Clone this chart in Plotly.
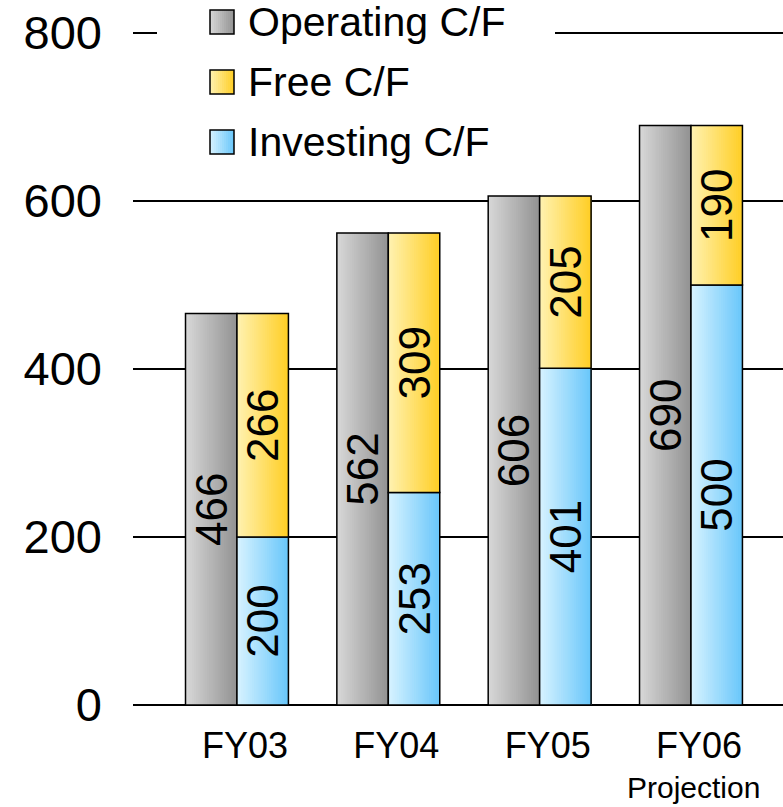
import plotly.graph_objects as go

# ---------------- data ----------------
categories = ["FY03", "FY04", "FY05", "FY06"]
operating_cf = [466, 562, 606, 690]
investing_cf = [200, 253, 401, 500]
free_cf = [266, 309, 205, 190]
y_ticks = [0, 200, 400, 600, 800]
legend_names = ["Operating C/F", "Free C/F", "Investing C/F"]

# ---------------- geometry / style ----------------
W, H = 783, 807
ML, MR, MT, MB = 133, 0, 33, 102
PW, PH = W - ML - MR, H - MT - MB
FONT = "Liberation Sans, Arial, sans-serif"

GREY = ((216, 216, 216), (146, 146, 146))
YELLOW = ((255, 242, 178), (255, 206, 36))
BLUE = ((216, 243, 255), (104, 198, 250))

def lerp(cols, t):
    a, b = cols
    return "rgb(%d,%d,%d)" % tuple(round(a[i] + (b[i] - a[i]) * t) for i in range(3))

def px_x(p):
    return (p - ML) / PW

def px_y(p):
    return (H - MB - p) / PH

xs = list(range(len(categories)))
bw = 0.34
N = 24

fig = go.Figure()

def add_series(vals, base, offset, cols):
    for k in range(N):
        t = (k + 0.5) / N
        fig.add_trace(go.Bar(
            x=xs, y=vals, base=base,
            width=bw * (N - k) / N, offset=offset + k * bw / N,
            marker=dict(color=lerp(cols, t), line=dict(width=0)),
            showlegend=False, hoverinfo="skip"))
    fig.add_trace(go.Bar(
        x=xs, y=vals, base=base, width=bw, offset=offset,
        marker=dict(color="rgba(0,0,0,0)", line=dict(color="black", width=1.5)),
        text=[str(v) for v in vals], textangle=-90, textposition="inside",
        insidetextanchor="middle", constraintext="none",
        textfont=dict(family=FONT, size=44, color="black"),
        showlegend=False, hoverinfo="skip"))

zeros = [0] * len(categories)
add_series(operating_cf, zeros, -bw, GREY)
add_series(investing_cf, zeros, 0, BLUE)
add_series(free_cf, investing_cf, 0, YELLOW)

shapes = []
annotations = []
# white box behind legend (covers the top gridline)
shapes.append(dict(type="rect", xref="paper", yref="paper",
                   x0=px_x(157), x1=px_x(555), y0=px_y(170), y1=px_y(0),
                   fillcolor="white", line=dict(width=0), layer="above"))
# thicker top line
shapes.append(dict(type="line", xref="paper", yref="paper",
                   x0=px_x(555), x1=1, y0=1, y1=1,
                   line=dict(color="black", width=2), layer="above"))
shapes.append(dict(type="line", xref="paper", yref="paper",
                   x0=0, x1=px_x(157), y0=1, y1=1,
                   line=dict(color="black", width=2), layer="above"))

rows = [22, 82, 142]
sw_cols = [GREY, YELLOW, BLUE]
for name, cy, cols in zip(legend_names, rows, sw_cols):
    x0, x1 = 210, 234
    n = 12
    for k in range(n):
        shapes.append(dict(type="rect", xref="paper", yref="paper",
                           x0=px_x(x0 + (x1 - x0) * k / n), x1=px_x(x1),
                           y0=px_y(cy + 12), y1=px_y(cy - 12),
                           fillcolor=lerp(cols, (k + 0.5) / n), line=dict(width=0),
                           layer="above"))
    shapes.append(dict(type="rect", xref="paper", yref="paper",
                       x0=px_x(x0), x1=px_x(x1), y0=px_y(cy + 12), y1=px_y(cy - 12),
                       fillcolor="rgba(0,0,0,0)", line=dict(color="black", width=1.5),
                       layer="above"))
    annotations.append(dict(xref="paper", yref="paper", x=px_x(246), y=px_y(cy),
                            xanchor="left", yanchor="middle", showarrow=False,
                            text=name, font=dict(family=FONT, size=41, color="black")))

annotations.append(dict(xref="x", yref="paper", x=xs[-1], y=0, yanchor="middle",
                        xanchor="center", xshift=3, yshift=-(787 - (H - MB)),
                        showarrow=False, text="Projection",
                        font=dict(family=FONT, size=30, color="black")))

fig.update_layout(
    width=W, height=H, margin=dict(l=ML, r=MR, t=MT, b=MB, pad=0),
    barmode="overlay", paper_bgcolor="white", plot_bgcolor="white",
    font=dict(family=FONT, color="black"),
    showlegend=False, shapes=shapes, annotations=annotations,
    xaxis=dict(range=[-0.687, 3.608], tickvals=xs, ticktext=categories,
               ticks="", showgrid=False, zeroline=False, showline=False,
               tickfont=dict(family=FONT, size=36, color="black"),
               ticklabelstandoff=16, ticklabelshift=8),
    yaxis=dict(range=[0, 800], tickvals=y_ticks, ticks="", showgrid=True,
               gridcolor="black", gridwidth=1.5, zeroline=True,
               zerolinecolor="black", zerolinewidth=2, showline=False,
               tickfont=dict(family=FONT, size=47, color="black"),
               ticklabelstandoff=30),
)

fig.write_html("out.html", config={"displayModeBar": False},
               post_script="document.body.style.margin='0px';document.body.style.padding='0px';")
